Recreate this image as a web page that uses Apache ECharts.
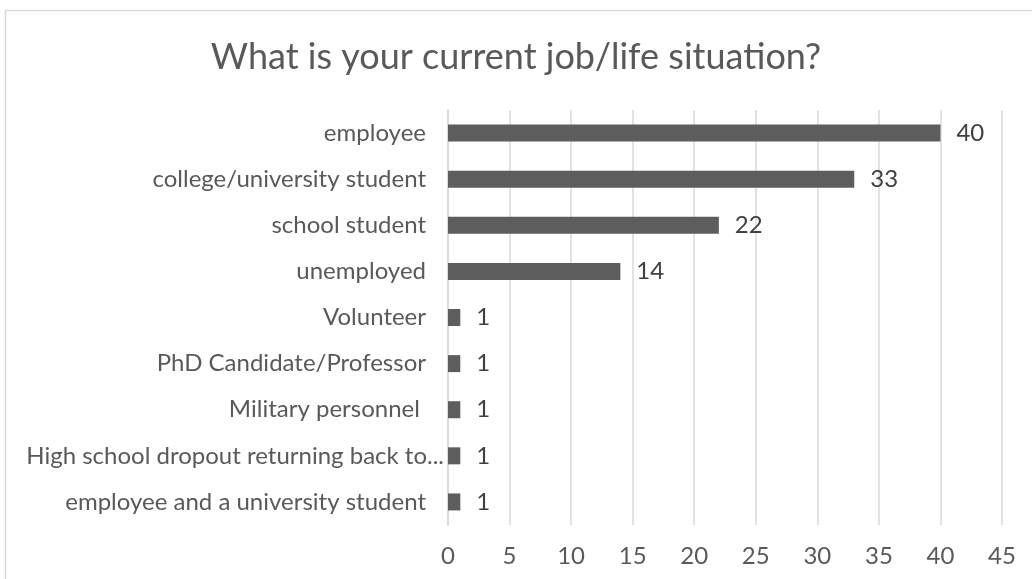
<!DOCTYPE html>
<html>
<head>
<meta charset="utf-8">
<script src="https://cdn.jsdelivr.net/npm/echarts@6/dist/echarts.min.js"></script>
<style>
html,body{margin:0;padding:0;background:#fff;}
#chart{width:1032px;height:579px;}
</style>
</head>
<body>
<div id="chart"></div>
<script>
const categories = [
  "employee",
  "college/university student",
  "school student",
  "unemployed",
  "Volunteer",
  "PhD Candidate/Professor",
  "Military personnel ",
  "High school dropout returning back to...",
  "employee and a university student"
];
const values = [40, 33, 22, 14, 1, 1, 1, 1, 1];
const xTicks = { min: 0, max: 45, interval: 5 };
const titleText = "What is your current job/life situation?";

const chart = echarts.init(document.getElementById('chart'));
const font = 'Lato, "Open Sans", sans-serif';
chart.setOption({
  animation: false,
  backgroundColor: '#ffffff',
  title: {
    text: titleText,
    left: 'center',
    top: 34,
    textStyle: { fontFamily: font, fontSize: 36, fontWeight: 'normal', color: '#595959' }
  },
  graphic: [{
    type: 'rect',
    shape: { x: 5.5, y: 10.5, width: 1200, height: 800 },
    style: { fill: 'none', stroke: '#d9d9d9', lineWidth: 1.5 },
    silent: true,
    z: -1
  }],
  grid: { left: 448, right: 30, top: 110, height: 415, containLabel: false },
  xAxis: {
    type: 'value',
    min: xTicks.min, max: xTicks.max, interval: xTicks.interval,
    axisLine: { show: false },
    axisTick: { show: false },
    splitLine: { show: true, lineStyle: { color: '#d9d9d9', width: 1.5 } },
    axisLabel: { fontFamily: font, fontSize: 24, color: '#595959', margin: 19 }
  },
  yAxis: {
    type: 'category',
    data: categories,
    inverse: true,
    axisLine: { show: true, lineStyle: { color: '#d9d9d9', width: 1.5 } },
    axisTick: { show: false },
    axisLabel: {
      fontFamily: font, fontSize: 24, color: '#595959', margin: 4,
      formatter: function (v) {
        return v.endsWith('...') ? '{t|' + v + '}' : '{n|' + v + '}';
      },
      rich: {
        n: { fontFamily: font, fontSize: 24, color: '#595959', padding: [0, 18, 0, 0] },
        t: { fontFamily: font, fontSize: 24, color: '#595959', padding: [0, 0, 0, 0] }
      }
    }
  },
  series: [{
    type: 'bar',
    data: values,
    barWidth: 17,
    itemStyle: { color: '#5d5d5d' },
    label: {
      show: true, position: 'right', distance: 16,
      fontFamily: font, fontSize: 24, color: '#404040'
    }
  }]
});
</script>
</body>
</html>
